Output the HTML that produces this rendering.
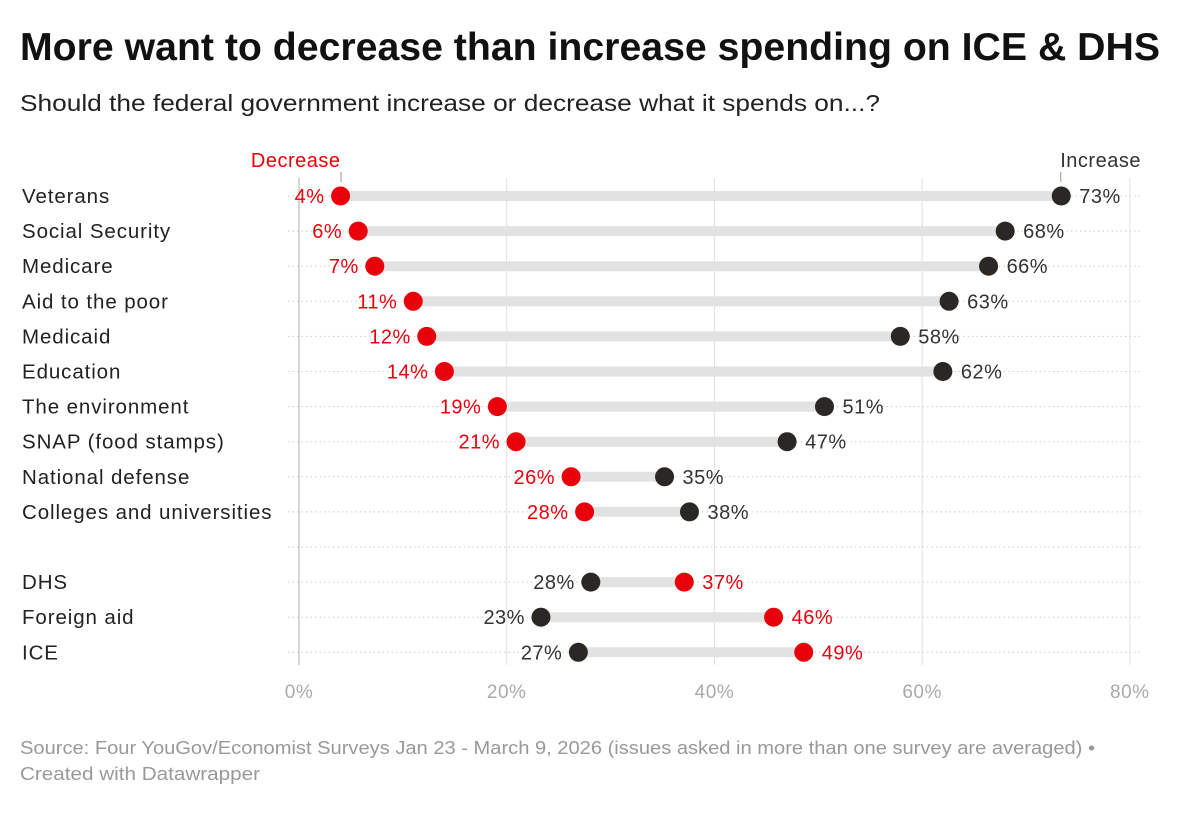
<!DOCTYPE html>
<html><head><meta charset="utf-8"><style>
body{margin:0;background:#fff;width:1182px;height:808px;overflow:hidden;font-family:"Liberation Sans",sans-serif}
</style></head><body>
<svg width="1182" height="808">
<text x="20" y="60" font-size="39" font-weight="bold" fill="#111" textLength="1140" lengthAdjust="spacingAndGlyphs">More want to decrease than increase spending on ICE &amp; DHS</text>
<text x="20" y="111" font-size="23" fill="#222" textLength="860" lengthAdjust="spacingAndGlyphs">Should the federal government increase or decrease what it spends on...?</text>
<g id="g"></g>
<text x="20" y="754" font-size="18" fill="#999" textLength="1075" lengthAdjust="spacingAndGlyphs">Source: Four YouGov/Economist Surveys Jan 23 - March 9, 2026 (issues asked in more than one survey are averaged) •</text>
<text x="20" y="780" font-size="18" fill="#999" textLength="240" lengthAdjust="spacingAndGlyphs">Created with Datawrapper</text>
</svg>
<script>
const categories=["Veterans","Social Security","Medicare","Aid to the poor","Medicaid","Education","The environment","SNAP (food stamps)","National defense","Colleges and universities","","DHS","Foreign aid","ICE"];
const increaseVals=[73.4,68.0,66.4,62.6,57.9,62.0,50.6,47.0,35.2,37.6,null,28.1,23.3,26.9];
const decreaseVals=[4.0,5.7,7.3,11.0,12.3,14.0,19.1,20.9,26.2,27.5,null,37.1,45.7,48.6];
const ticks=[0,20,40,60,80];
const NS="http://www.w3.org/2000/svg",g=document.getElementById('g');
const x=v=>299+v*10.385, y=i=>196+i*35.1;
function mk(t,a,txt){const e=document.createElementNS(NS,t);for(const k in a)e.setAttribute(k,a[k]);if(txt!=null)e.textContent=txt;g.appendChild(e);return e;}
ticks.forEach(t=>{
 const l=mk('line',{x1:x(t),x2:x(t),y1:178,y2:665,stroke:t?'#e0e0e0':'#c8c8c8','stroke-width':t?1:1.5});
 
 
 const tx=mk('text',{x:x(t),y:698,'font-size':19,fill:'#aaa','text-anchor':'middle','letter-spacing':0.5},t+'%');
 
 
});
categories.forEach((c,i)=>{
 const yy=y(i);
 const d=mk('line',{x1:288,x2:1140,y1:yy,y2:yy,stroke:'#ccc','stroke-dasharray':'1.5 3'});
 
 
 if(!c)return;
 const lb=mk('text',{x:22,y:yy+7,'font-size':20.5,fill:'#222','letter-spacing':0.9},c);
 
 
 const inc=increaseVals[i],dec=decreaseVals[i];
 const bar=mk('line',{x1:x(Math.min(inc,dec)),x2:x(Math.max(inc,dec)),y1:yy,y2:yy,stroke:'#e2e2e2','stroke-width':10});
 
 
 [[inc,'#2b2724','increase'],[dec,'#e8000b','decrease']].forEach(([v,col,nm])=>{
  const other=nm=='increase'?dec:inc, right=v>other;
  const ci=mk('circle',{cx:x(v),cy:yy,r:9.5,fill:col});
  
  
  const t=mk('text',{x:x(v)+(right?18:-16),y:yy+7,'font-size':20,fill:nm=='increase'?'#333':'#e8000b','text-anchor':right?'start':'end','letter-spacing':0.5},Math.round(v)+'%');
  
  
 });
});
const h1=mk('text',{x:x(4),y:167,'font-size':20,fill:'#e8000b','text-anchor':'end','letter-spacing':0.5},'Decrease');


mk('line',{x1:x(4)+0.5,x2:x(4)+0.5,y1:172,y2:182,stroke:'#999'});
const h2=mk('text',{x:x(73.4)-1,y:167,'font-size':20,fill:'#333','text-anchor':'start','letter-spacing':0.5},'Increase');


mk('line',{x1:x(73.4)-0.5,x2:x(4)+0.5+0*0+x(73.4)-x(4)-1,y1:172,y2:182,stroke:'#999'});
</script>
</body></html>
